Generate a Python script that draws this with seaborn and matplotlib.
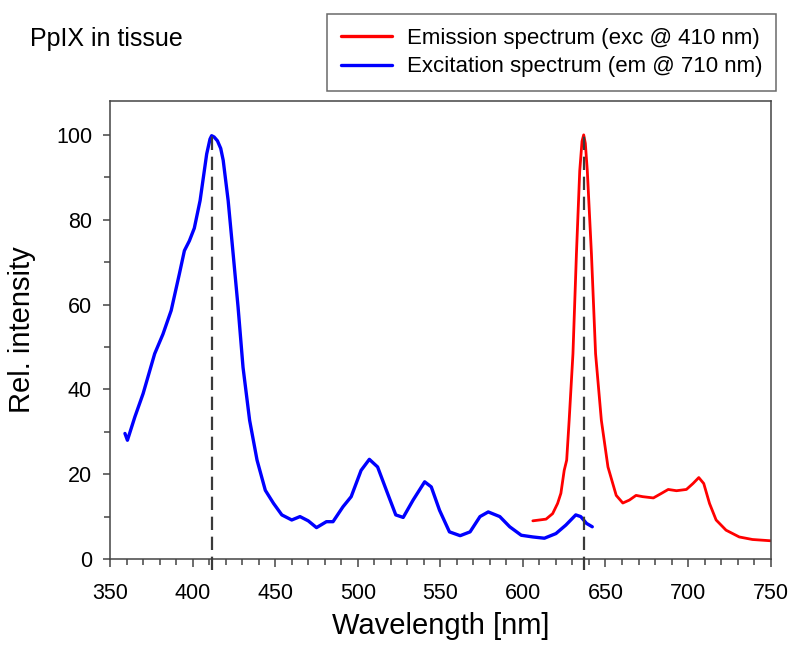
import numpy as np
import pandas as pd
import matplotlib.pyplot as plt
import seaborn as sns
from matplotlib.ticker import MultipleLocator

# excitation spectrum (em @ 710 nm)
ex_nm = [359, 360.5, 365, 370, 377, 382, 387, 392, 395, 398, 401, 404.5, 408.5,
         410.5, 411.5, 413, 415, 417, 418.5, 421.5, 424.5, 427.5, 430.5, 434.5,
         439, 444, 449, 454, 460, 465, 470, 475, 481, 485, 491, 496, 502, 507,
         512, 518, 523, 527.5, 533.5, 540.5, 544.5, 549.5, 555.5, 562, 568, 574,
         579, 586, 592, 599, 606, 613, 620, 626, 632, 635, 638.5, 642]
ex_val = [29.6, 28.0, 33.5, 39, 48.4, 53, 58.6, 67.3, 72.7, 75, 78, 84.5, 95.5,
          99.0, 99.8, 99.5, 98.6, 96.8, 94, 84.5, 72, 59.4, 45.2, 32.7,
          23.3, 16.2, 13.1, 10.4, 9.2, 10, 9.0, 7.4, 8.8, 8.8, 12.3, 14.7, 20.9, 23.5,
          21.7, 15.5, 10.4, 9.8, 13.9, 18.2, 17.0, 11.5, 6.4, 5.5, 6.4, 10,
          11.1, 10, 7.6, 5.6, 5.2, 4.9, 6, 8, 10.4, 10, 8.4, 7.6]

# emission spectrum (exc @ 410 nm)
em_nm = [606, 610, 614, 618, 621, 623, 625, 626.5, 628, 630.3, 632.4, 634.4,
         635.8, 636.8, 637.8, 639, 641.5, 644, 647.5, 651.5, 656.5, 660.5, 664.5,
         668.5, 672.5, 679, 684, 688, 693, 699, 703, 706.5, 709.5, 713, 717, 723,
         731, 739, 750]
em_val = [9.0, 9.2, 9.4, 10.7, 13.1, 15.5, 20.9, 23.3, 32.7, 48.4, 71.9, 91.5,
          98.5, 100, 98.0, 91.5, 71.9, 48.4, 32.7, 21.7, 15, 13.2, 13.9,
          15, 14.7, 14.4, 15.5, 16.4, 16.1, 16.4, 17.8, 19.2, 17.8, 13.1, 9.2, 6.8,
          5.2, 4.6, 4.3]

peaks = [412, 637]

em_label = "Emission spectrum (exc @ 410 nm)"
ex_label = "Excitation spectrum (em @ 710 nm)"

sns.set_style("ticks")
plt.rcParams['font.family'] = ['Liberation Sans', 'DejaVu Sans']
plt.rcParams['text.color'] = 'black'
plt.rcParams['axes.labelcolor'] = 'black'
plt.rcParams['xtick.labelcolor'] = 'black'
plt.rcParams['ytick.labelcolor'] = 'black'

fig = plt.figure(figsize=(7.92, 6.47), dpi=100)
ax = fig.add_axes([0.139, 0.136, 0.834, 0.708])

em = pd.DataFrame({"nm": em_nm, "val": em_val})
ex = pd.DataFrame({"nm": ex_nm, "val": ex_val})
sns.lineplot(data=em, x="nm", y="val", color="#ff0000", lw=2.0, ax=ax,
             label=em_label, estimator=None, sort=False)
sns.lineplot(data=ex, x="nm", y="val", color="#0000ff", lw=2.4, ax=ax,
             label=ex_label, estimator=None, sort=False)

for p in peaks:
    ax.plot([p, p], [-2.6, 100], color="#3a3a3a", lw=1.6, ls=(0, (6, 3)),
            clip_on=False, zorder=3)

ax.set_xlim(350, 750)
ax.set_ylim(0, 108)
ax.xaxis.set_major_locator(MultipleLocator(50))
ax.xaxis.set_minor_locator(MultipleLocator(10))
ax.yaxis.set_major_locator(MultipleLocator(20))
ax.yaxis.set_minor_locator(MultipleLocator(10))
ax.tick_params(which="major", length=6, width=1.1, color="#444444",
               labelsize=15.5, direction="out")
ax.tick_params(which="minor", length=4, width=1.1, color="#444444",
               direction="out")
ax.tick_params(axis="x", which="major", pad=11)
ax.tick_params(axis="y", which="major", length=5, pad=8)

for s in ax.spines.values():
    s.set_color("#444444")
    s.set_linewidth(1.1)

ax.set_xlabel("Wavelength [nm]", fontsize=21, labelpad=6)
ax.set_ylabel("Rel. intensity", fontsize=21, labelpad=14)

fig.text(0.038, 0.94, "PpIX in tissue", fontsize=18, va="center", ha="left")

leg = ax.legend(loc="upper right", bbox_to_anchor=(0.98, 0.978),
                bbox_transform=fig.transFigure, fontsize=16, frameon=True,
                fancybox=False, edgecolor="#444444", handlelength=2.3,
                handletextpad=0.7, borderpad=0.6, labelspacing=0.35,
                borderaxespad=0)
leg.get_frame().set_linewidth(1.1)
for h in leg.get_lines():
    h.set_linewidth(2.4)

fig.savefig("out.png", dpi=100)
